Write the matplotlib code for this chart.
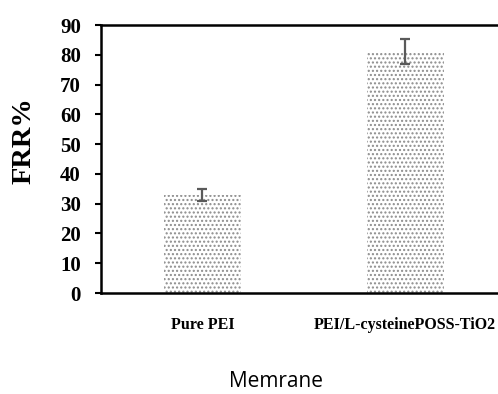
import numpy as np
import matplotlib.pyplot as plt

categories = ['Pure PEI', 'PEI/L-cysteinePOSS-TiO2']
frr = [33, 81]
err = [2, 4.2]

fig = plt.figure(figsize=(4.98, 3.94), dpi=100)
ax = fig.add_axes([0.2028, 0.2563, 0.8142, 0.6802])

x = np.arange(len(categories))
ax.bar(x, frr, width=0.38, color='white', edgecolor='#8c8c8c', hatch='....', linewidth=0)
ax.errorbar(x, frr, yerr=err, fmt='none', ecolor='#5a5a5a', elinewidth=1.6, capsize=3.8, capthick=1.6)

ax.set_xlim(-0.5, 1.5)
ax.set_ylim(0, 90)
ax.set_yticks(range(0, 91, 10))
ax.set_xticks(x)
ax.set_xticklabels(categories, fontfamily='Liberation Serif', fontweight='bold', fontsize=11.5)
for t in ax.get_yticklabels():
    t.set_fontfamily('Liberation Serif')
    t.set_fontweight('bold')
    t.set_fontsize(15)
ax.tick_params(axis='y', direction='out', length=4.5, width=1.5, pad=10)
ax.tick_params(axis='x', length=0, pad=17)
for s in ['left', 'bottom', 'top']:
    ax.spines[s].set_linewidth(1.8)
ax.spines['right'].set_visible(False)

ax.set_ylabel('FRR%', fontfamily='Liberation Serif', fontweight='bold', fontsize=20.5)
ax.yaxis.set_label_coords(-0.16, 0.567)
fig.text(0.554, 0.018, 'Memrane', fontfamily='Open Sans', fontsize=15, ha='center', va='baseline')

fig.savefig('out.png', dpi=100)
